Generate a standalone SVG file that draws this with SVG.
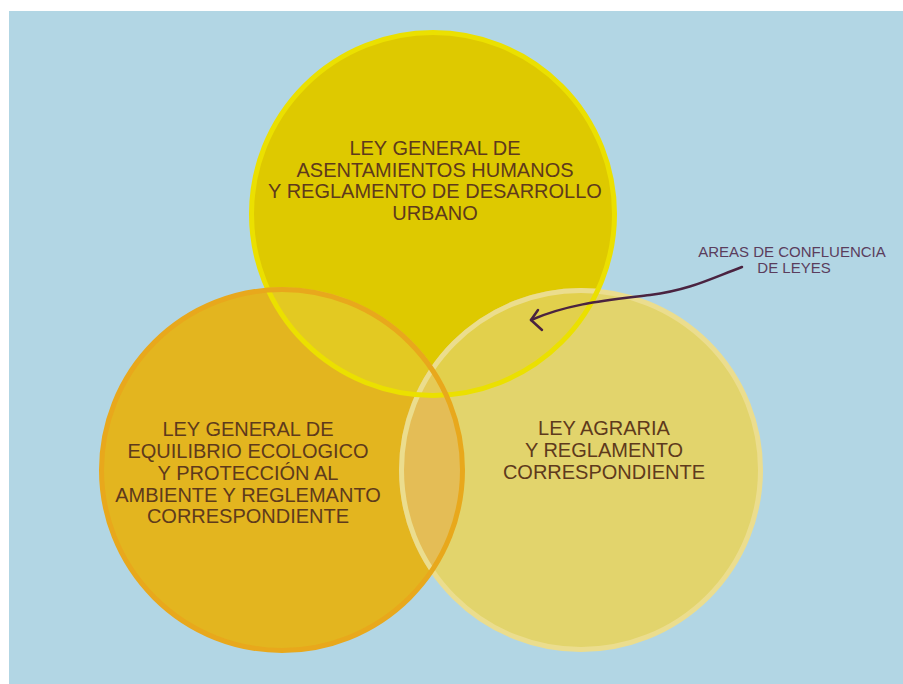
<svg xmlns="http://www.w3.org/2000/svg" width="903" height="684" viewBox="0 0 903 684">
  <defs>
    <style>
      .lbl { font-family: "Liberation Sans", Arial, sans-serif; font-size: 20px; fill: #5e3a1c; text-anchor: middle; }
      .note { font-family: "Liberation Sans", Arial, sans-serif; font-size: 15px; fill: #5a3d5c; text-anchor: middle; }
      .ring { fill: none; stroke-width: 5; }
      .arrow { fill: none; stroke: #4a2340; stroke-width: 2.5; stroke-linecap: round; stroke-linejoin: round; }
    </style>
    <clipPath id="clipT"><circle cx="433" cy="214" r="184"/></clipPath>
    <clipPath id="clipL"><circle cx="282" cy="470" r="183"/></clipPath>
    <clipPath id="clipR"><circle cx="581" cy="470" r="182"/></clipPath>
  </defs>

  <g id="background">
    <rect x="0" y="0" width="903" height="684" fill="#ffffff"/>
    <rect x="9" y="11" width="894" height="673" fill="#b2d6e4"/>
  </g>

  <g id="fills">
    <circle cx="433" cy="214" r="183" fill="#dec900"/>
    <circle cx="282" cy="470" r="182" fill="#e3b51f"/>
    <circle cx="581" cy="470" r="181" fill="#e2d46c"/>
    <circle cx="433" cy="214" r="183" fill="#e3c922" clip-path="url(#clipL)"/>
    <circle cx="433" cy="214" r="183" fill="#e2d04c" clip-path="url(#clipR)"/>
    <circle cx="282" cy="470" r="182" fill="#e4bd56" clip-path="url(#clipR)"/>
    <g clip-path="url(#clipR)">
      <circle cx="433" cy="214" r="183" fill="#e5ca56" clip-path="url(#clipL)"/>
    </g>
  </g>

  <g id="node-agraria">
    <circle class="ring" cx="581" cy="470" r="179.5" stroke="#ebdd8e"/>
    <text class="lbl" x="604" y="435">LEY AGRARIA</text>
    <text class="lbl" x="604" y="457">Y REGLAMENTO</text>
    <text class="lbl" x="604" y="479">CORRESPONDIENTE</text>
  </g>

  <g id="node-asentamientos">
    <circle class="ring" cx="433" cy="214" r="181.5" stroke="#ebe000"/>
    <text class="lbl" x="435" y="155">LEY GENERAL DE</text>
    <text class="lbl" x="435" y="177">ASENTAMIENTOS HUMANOS</text>
    <text class="lbl" x="435" y="198">Y REGLAMENTO DE DESARROLLO</text>
    <text class="lbl" x="435" y="220">URBANO</text>
  </g>

  <g id="node-equilibrio">
    <circle class="ring" cx="282" cy="470" r="180.5" stroke="#e8a81c"/>
    <text class="lbl" x="248" y="436">LEY GENERAL DE</text>
    <text class="lbl" x="248" y="458">EQUILIBRIO ECOLOGICO</text>
    <text class="lbl" x="248" y="480">Y PROTECCIÓN AL</text>
    <text class="lbl" x="248" y="502">AMBIENTE Y REGLEMANTO</text>
    <text class="lbl" x="248" y="523">CORRESPONDIENTE</text>
  </g>

  <g id="note-confluencia">
    <text class="note" x="792" y="257">AREAS DE CONFLUENCIA</text>
    <text class="note" x="794" y="273">DE LEYES</text>
  </g>

  <g id="connectors">
    <path class="arrow" d="M742,267 C712,278 690,290 650,295 C610,300 570,303 531,320"/>
    <path class="arrow" d="M538,310 L531,320 L542,330"/>
  </g>
</svg>
